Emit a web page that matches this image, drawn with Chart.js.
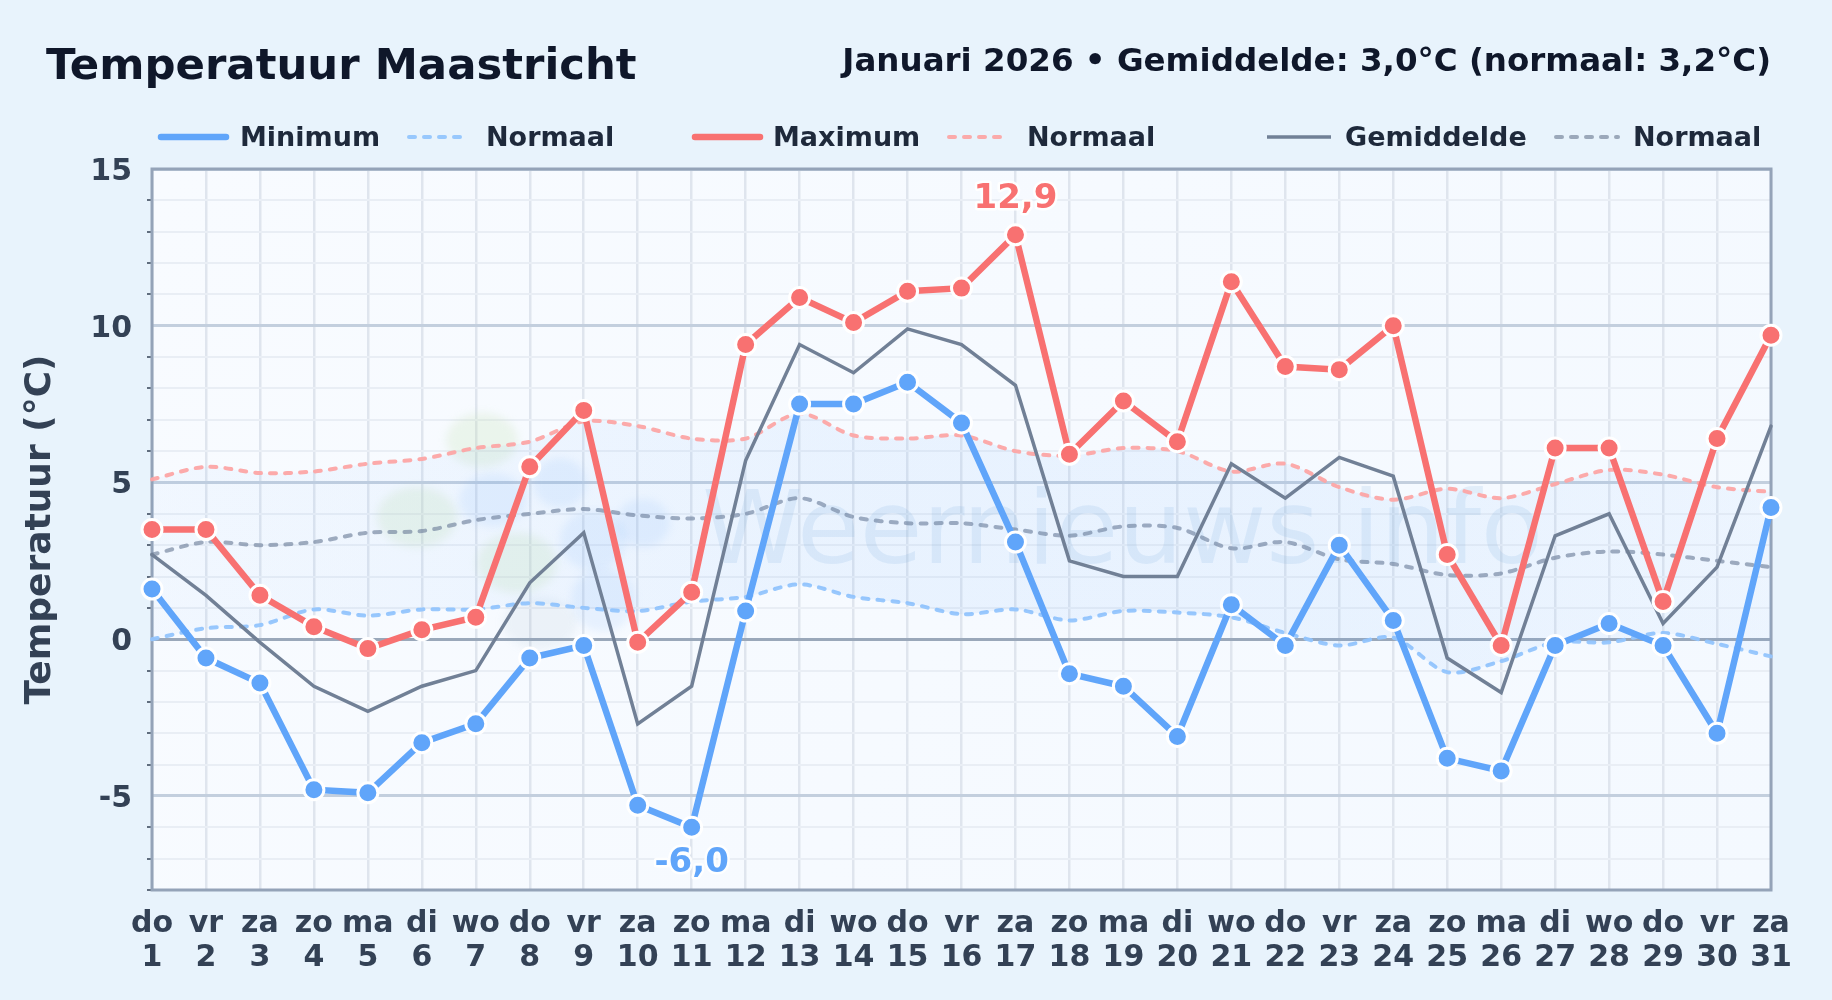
<!DOCTYPE html>
<html lang="nl">
<head>
<meta charset="utf-8">
<title>Temperatuur Maastricht</title>
<script src="https://cdn.jsdelivr.net/npm/chart.js@4/dist/chart.umd.min.js"></script>
<style>
  html, body { margin: 0; background: #e8f3fc; }
  canvas { display: block; }
</style>
</head>
<body>
<canvas id="chart_temp" width="1832" height="1000"></canvas>
<script>
var weekdays = ['do','vr','za','zo','ma','di','wo','do','vr','za','zo','ma','di','wo','do','vr','za','zo','ma','di','wo','do','vr','za','zo','ma','di','wo','do','vr','za'];
var days = ['1','2','3','4','5','6','7','8','9','10','11','12','13','14','15','16','17','18','19','20','21','22','23','24','25','26','27','28','29','30','31'];

var tempMin = [1.6,-0.6,-1.4,-4.8,-4.9,-3.3,-2.7,-0.6,-0.2,-5.3,-6.0,0.9,7.5,7.5,8.2,6.9,3.1,-1.1,-1.5,-3.1,1.1,-0.2,3.0,0.6,-3.8,-4.2,-0.2,0.5,-0.2,-3.0,4.2];
var tempMax = [3.5,3.5,1.4,0.4,-0.3,0.3,0.7,5.5,7.3,-0.1,1.5,9.4,10.9,10.1,11.1,11.2,12.9,5.9,7.6,6.3,11.4,8.7,8.6,10.0,2.7,-0.2,6.1,6.1,1.2,6.4,9.7];
var tempMean = [2.7,1.4,-0.1,-1.5,-2.3,-1.5,-1.0,1.8,3.4,-2.7,-1.5,5.7,9.4,8.5,9.9,9.4,8.1,2.5,2.0,2.0,5.6,4.5,5.8,5.2,-0.6,-1.7,3.3,4.0,0.5,2.3,6.8];
var normMin = [0,0.35,0.45,0.95,0.75,0.95,0.95,1.15,1.0,0.9,1.2,1.35,1.75,1.35,1.15,0.8,0.95,0.6,0.9,0.85,0.7,0.2,-0.2,0.05,-1.05,-0.7,-0.1,-0.1,0.2,-0.15,-0.55];
var normMax = [5.1,5.5,5.3,5.35,5.6,5.75,6.1,6.3,6.95,6.8,6.4,6.4,7.2,6.5,6.4,6.5,6.0,5.85,6.1,6.0,5.35,5.6,4.85,4.45,4.8,4.5,4.95,5.4,5.25,4.85,4.7];
var normMean = [2.7,3.1,3.0,3.1,3.4,3.45,3.8,4.0,4.15,3.95,3.85,4.0,4.5,3.9,3.7,3.7,3.5,3.3,3.6,3.55,2.9,3.1,2.55,2.4,2.05,2.1,2.6,2.8,2.7,2.5,2.3];

var FONT = '"DejaVu Sans", sans-serif';
var BLUE = '#60a5fa', RED = '#f87171', GREY = '#718096';
var BLUE_N = 'rgba(147,197,253,0.95)', RED_N = 'rgba(252,165,165,0.95)', GREY_N = 'rgba(113,128,150,0.65)';

var ctx = document.getElementById('chart_temp').getContext('2d');

var bandFill = ctx.createLinearGradient(152, 0, 1771, 0);
bandFill.addColorStop(0, 'rgba(96,165,250,0.045)');
bandFill.addColorStop(0.45, 'rgba(96,165,250,0.09)');
bandFill.addColorStop(0.75, 'rgba(96,165,250,0.085)');
bandFill.addColorStop(1, 'rgba(96,165,250,0.05)');

function solid(label, data, color, width) {
	return {
		label: label, data: data, borderColor: color, backgroundColor: color,
		borderWidth: width, pointRadius: 10, pointBorderWidth: 3, pointBorderColor: '#ffffff',
		pointBackgroundColor: color, tension: 0, clip: false, borderCapStyle: 'round'
	};
}
function dashed(label, data, color, fill) {
	return {
		label: label, data: data, borderColor: color, borderWidth: 4, borderDash: [6, 9],
		borderCapStyle: 'round', pointRadius: 0, tension: 0.3, clip: false, fill: fill || false,
		backgroundColor: bandFill
	};
}

// legend: dataset index, line start, line end, text x
var legendItems = [
	[1, 161, 226, 240], [5, 409, 465, 486],
	[0, 695, 760, 773], [3, 949, 1005, 1027],
	[2, 1267, 1331, 1345], [4, 1556, 1618, 1633]
];

function blob(c, x, y, rx, ry, color) {
	c.fillStyle = color;
	c.beginPath();
	c.ellipse(x, y, rx, ry, 0, 0, Math.PI * 2);
	c.fill();
}

var decorations = {
	id: 'decorations',
	beforeDraw: function (chart) {
		var a = chart.chartArea, c = chart.ctx;
		var g = c.createLinearGradient(a.left, a.top, a.right, a.bottom);
		g.addColorStop(0, '#f8fbff');
		g.addColorStop(0.5, '#f6faff');
		g.addColorStop(1, '#f4f9ff');
		c.save();
		c.fillStyle = g;
		c.fillRect(a.left, a.top, a.right - a.left, a.bottom - a.top);
		c.restore();
	},
	beforeDatasetsDraw: function (chart) {
		var a = chart.chartArea, c = chart.ctx;
		c.save();
		// watermark
		var green = 'rgba(190,225,170,0.22)', blue = 'rgba(96,165,250,0.11)', grey = 'rgba(140,165,190,0.10)';
		c.filter = 'blur(4px)';
		blob(c, 482, 440, 36, 27, green);
		blob(c, 417, 517, 40, 30, green);
		blob(c, 517, 563, 40, 30, green);
		blob(c, 493, 500, 34, 27, blue);
		blob(c, 560, 483, 27, 25, blue);
		blob(c, 593, 540, 33, 30, blue);
		blob(c, 643, 523, 27, 24, blue);
		blob(c, 603, 600, 32, 32, blue);
		blob(c, 540, 623, 37, 26, grey);
		c.filter = 'none';
		c.fillStyle = 'rgba(125,175,220,0.16)';
		c.font = '102px ' + FONT;
		c.textAlign = 'left';
		c.textBaseline = 'alphabetic';
		c.fillText('Weernieuws.info', 702, 563);
		// frame
		c.strokeStyle = '#94a3b8';
		c.lineWidth = 3;
		c.strokeRect(a.left, a.top, a.right - a.left, a.bottom - a.top);
		c.restore();
	},
	afterDraw: function (chart) {
		var c = chart.ctx, y = chart.scales.y, x = chart.scales.x;
		c.save();
		// heading
		c.textBaseline = 'alphabetic';
		c.fillStyle = '#0f172a';
		c.textAlign = 'left';
		c.font = 'bold 43.4px ' + FONT;
		c.fillText('Temperatuur Maastricht', 46, 79);
		c.textAlign = 'right';
		c.font = 'bold 32.5px ' + FONT;
		c.fillText('Januari 2026 \u2022 Gemiddelde: 3,0\u00b0C (normaal: 3,2\u00b0C)', 1771, 71);
		// legend
		c.textAlign = 'left';
		c.font = 'bold 27px ' + FONT;
		legendItems.forEach(function (item) {
			var ds = chart.data.datasets[item[0]];
			c.strokeStyle = ds.borderColor;
			c.lineWidth = ds.borderWidth;
			c.lineCap = ds.borderDash || ds.borderWidth >= 5 ? 'round' : 'butt';
			c.setLineDash(ds.borderDash || []);
			c.beginPath();
			c.moveTo(item[1], 137);
			c.lineTo(item[2], 137);
			c.stroke();
			c.setLineDash([]);
			c.fillStyle = '#1e293b';
			c.fillText(ds.label, item[3], 146);
		});
		// extreme labels
		c.textAlign = 'center';
		c.textBaseline = 'middle';
		c.font = 'bold 34px ' + FONT;
		c.lineJoin = 'round';
		c.lineCap = 'round';
		var top = tempMax.indexOf(Math.max.apply(null, tempMax));
		var low = tempMin.indexOf(Math.min.apply(null, tempMin));
		[[top, tempMax[top], -36, RED], [low, tempMin[low], 36, BLUE]].forEach(function (m) {
			var text = m[1].toFixed(1).replace('.', ',');
			var px = x.getPixelForValue(m[0]), py = y.getPixelForValue(m[1]) + m[2];
			c.strokeStyle = 'rgba(255,255,255,0.9)';
			c.lineWidth = 5;
			c.strokeText(text, px, py);
			c.fillStyle = m[3];
			c.fillText(text, px, py);
		});
		c.restore();
	}
};

var labels = weekdays.map(function (d, i) { return [d, days[i]]; });

var myChart = new Chart(ctx, {
	type: 'line',
	data: {
		labels: labels,
		datasets: [
			solid('Maximum', tempMax, RED, 6.5),
			solid('Minimum', tempMin, BLUE, 6.5),
			Object.assign(solid('Gemiddelde', tempMean, GREY, 3.5), { pointRadius: 0 }),
			dashed('Normaal', normMax, RED_N, 5),
			dashed('Normaal', normMean, GREY_N),
			dashed('Normaal', normMin, BLUE_N)
		]
	},
	options: {
		responsive: false,
		animation: false,
		devicePixelRatio: 1,
		layout: { padding: { top: 169, right: 61, left: 0, bottom: 0 } },
		plugins: { legend: { display: false }, tooltip: { enabled: false }, title: { display: false } },
		scales: {
			x: {
				offset: false,
				afterFit: function (scale) { scale.height = 110; },
				border: { display: false },
				grid: { color: '#dfe5ee', lineWidth: 2.5, drawTicks: false },
				ticks: {
					autoSkip: false, maxRotation: 0, minRotation: 0, padding: 17,
					color: '#334155', font: { family: FONT, size: 30, weight: 'bold', lineHeight: 1.13 }
				}
			},
			y: {
				min: -8,
				max: 15,
				afterFit: function (scale) { scale.width = 152; },
				border: { display: false },
				grid: {
					tickLength: 5,
					color: function (c) {
						if (c.tick.value === 0) return '#9aa8ba';
						return c.tick.value % 5 === 0 ? '#c3cfde' : '#e9eef5';
					},
					tickColor: function (c) { return c.tick.value % 5 === 0 ? 'rgba(0,0,0,0)' : '#334155'; },
					tickWidth: 1.5,
					lineWidth: function (c) { return c.tick.value % 5 === 0 ? 3 : 2; }
				},
				ticks: {
					stepSize: 1, autoSkip: false, padding: 15, labelOffset: 3, color: '#334155',
					font: { family: FONT, size: 30, weight: 'bold' },
					callback: function (v) { return v % 5 === 0 ? String(v) : ''; }
				},
				title: {
					display: true, text: 'Temperatuur (\u00b0C)', color: '#334155',
					font: { family: FONT, size: 36, weight: 'bold' }, padding: { top: 19, bottom: 0 }
				}
			}
		}
	},
	plugins: [decorations]
});
</script>
</body>
</html>
